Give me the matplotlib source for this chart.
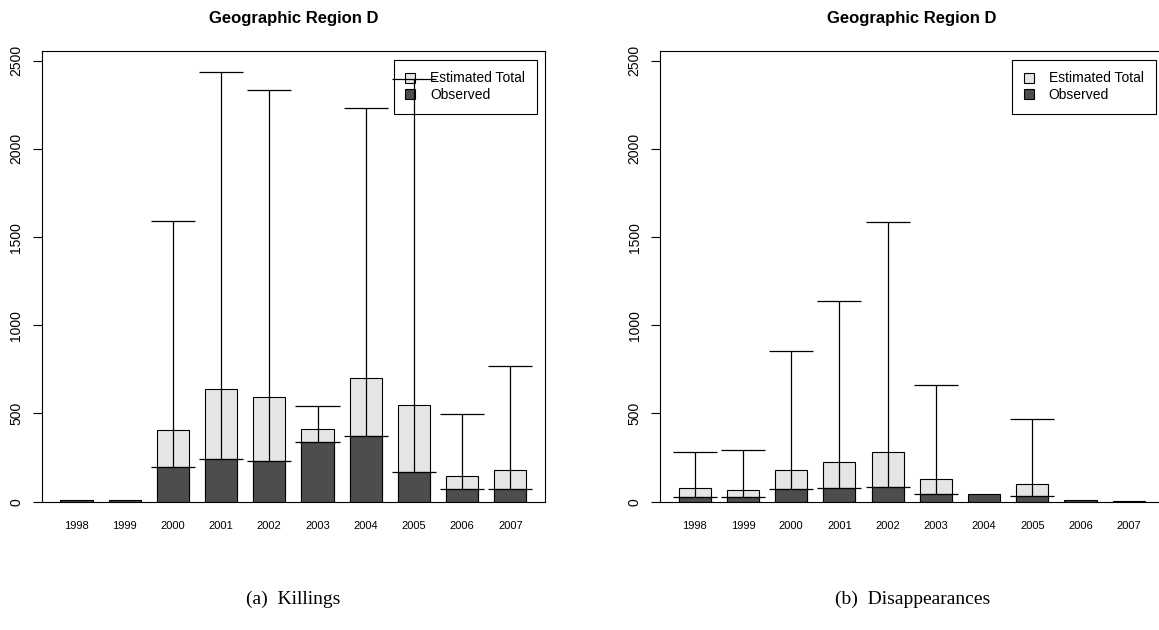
import numpy as np
import matplotlib
matplotlib.use("Agg")
import matplotlib.pyplot as plt
from matplotlib.lines import Line2D

# dados
anos = ["1998", "1999", "2000", "2001", "2002", "2003", "2004", "2005", "2006", "2007"]

# (a) Killings
obs_mortes = [10, 7, 198, 240, 231, 336, 370, 170, 70, 74]
est_mortes = [np.nan, np.nan, 404, 637, 593, 410, 699, 550, 146, 180]
inf_mortes = [np.nan, np.nan, 198, 240, 231, 336, 370, 170, 70, 74]
sup_mortes = [np.nan, np.nan, 1592, 2434, 2332, 541, 2234, 2398, 499, 769]

# (b) Disappearances
obs_desap = [28, 28, 70, 79, 85, 42, 42, 30, 8, 2]
est_desap = [76, 64, 181, 223, 283, 130, np.nan, 100, np.nan, np.nan]
inf_desap = [28, 28, 70, 79, 85, 42, np.nan, 30, np.nan, np.nan]
sup_desap = [280, 293, 852, 1138, 1585, 660, np.nan, 471, np.nan, np.nan]

cor_clara = "#e5e5e5"
cor_escura = "#4d4d4d"

plt.rcParams["font.family"] = ["Liberation Sans", "DejaVu Sans"]

fig = plt.figure(figsize=(11.59, 6.30), dpi=100)

def painel(ax, est, obs, inf, sup, legenda_x):
    n = len(anos)
    x = 1 + 1.5 * np.arange(n)  # centros das barras (space=0.5 como no R)
    ax.bar(x, est, width=1, color=cor_clara, edgecolor="black", linewidth=0.8, zorder=1)
    ax.bar(x, obs, width=1, color=cor_escura, edgecolor="black", linewidth=0.8, zorder=1.5)

    # intervalos
    ax.vlines(x, inf, sup, color="black", linewidth=0.9, zorder=4)
    ax.hlines(inf, x - 0.685, x + 0.685, color="black", linewidth=0.9, zorder=4)
    ax.hlines(sup, x - 0.685, x + 0.685, color="black", linewidth=0.9, zorder=4)

    ax.set_xlim(-0.08, 15.58)
    ax.set_ylim(0, 2555)
    ax.set_yticks([0, 500, 1000, 1500, 2000, 2500])
    ax.set_xticks(x)
    ax.set_xticklabels(anos, fontsize=8)
    ax.tick_params(axis="x", length=0, pad=14)
    ax.tick_params(axis="y", length=6.3, width=0.8, pad=7, labelsize=10)
    for lab in ax.get_yticklabels():
        lab.set_rotation(90)
        lab.set_va("center")
    for s in ax.spines.values():
        s.set_linewidth(0.8)
    ax.set_title("Geographic Region D", fontsize=12, fontweight="bold", pad=20)

    alcas = [Line2D([], [], marker="s", linestyle="none", markersize=7.5,
                    markerfacecolor=cor_clara, markeredgecolor="black", markeredgewidth=0.8),
             Line2D([], [], marker="s", linestyle="none", markersize=7.5,
                    markerfacecolor=cor_escura, markeredgecolor="black", markeredgewidth=0.8)]
    leg = ax.legend(alcas, ["Estimated Total", "Observed"], loc="upper left",
                    bbox_to_anchor=(legenda_x, 0.981), borderaxespad=0, fontsize=10,
                    fancybox=False, edgecolor="black", framealpha=1,
                    handlelength=0.7, handletextpad=1.1, labelspacing=0.2,
                    borderpad=0.85)
    leg.get_frame().set_linewidth(0.8)
    leg.set_zorder(2)

ax1 = fig.add_axes([0.036, 0.2037, 0.4343, 0.7153])
painel(ax1, est_mortes, obs_mortes, inf_mortes, sup_mortes, 0.699)

ax2 = fig.add_axes([0.5695, 0.2037, 0.4343, 0.7153])
painel(ax2, est_desap, obs_desap, inf_desap, sup_desap, 0.699)

fig.text(0.253, 0.048, "(a)  Killings", ha="center", va="center",
         family=["Liberation Serif", "DejaVu Serif"], fontsize=14)
fig.text(0.787, 0.048, "(b)  Disappearances", ha="center", va="center",
         family=["Liberation Serif", "DejaVu Serif"], fontsize=14)

fig.savefig("out.png", dpi=100)
